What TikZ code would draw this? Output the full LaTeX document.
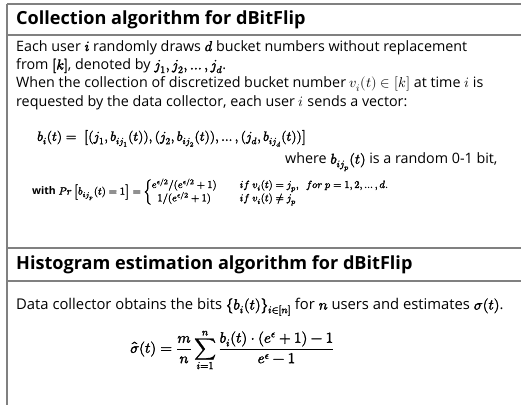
\documentclass[tikz,border=0pt]{standalone}
\usepackage{amsmath}
\usepackage{fontspec}
\usepackage{unicode-math}
\setmainfont{Open Sans}
\setmathfont{latinmodern-math.otf}
\setmathfont{latinmodern-math.otf}[version=bold,FakeBold=2.2]
\newcommand{\bmth}[1]{{\boldmath$#1$}}
\begin{document}
\begin{tikzpicture}[x=1pt,y=-1pt,
  rulecol/.style={draw=black!50, line width=1.6pt},
  titletext/.style={anchor=west, inner sep=0pt, font=\fontsize{18.1}{20}\selectfont\bfseries},
  bodytext/.style={anchor=west, inner sep=0pt, align=left, font=\fontsize{14.3}{18.4}\selectfont},
  mathtext/.style={anchor=west, inner sep=0pt, font=\fontsize{13.5}{16}\selectfont\boldmath},
  smallmath/.style={anchor=west, inner sep=0pt, font=\fontsize{10.5}{12.8}\selectfont\boldmath}]
\useasboundingbox (0,0) rectangle (521,405);
\fill[white] (0,0) rectangle (521,405);
% frame
\coordinate (tl) at (7,4);
\coordinate (tr) at (521,4);
\coordinate (bl) at (7,405);
\coordinate (a1) at (7,35);  \coordinate (a2) at (521,35);
\coordinate (b1) at (7,248); \coordinate (b2) at (521,248);
\coordinate (c1) at (7,281); \coordinate (c2) at (521,281);
\draw[rulecol] (tl) -- (tr);
\draw[rulecol] (a1) -- (a2);
\draw[rulecol] (b1) -- (b2);
\draw[rulecol] (c1) -- (c2);
\draw[rulecol] (tl) -- (bl);
% titles
\node[titletext] (t1) at (16,20) {Collection algorithm for dBitFlip};
\node[titletext] (t2) at (16,265) {Histogram estimation algorithm for dBitFlip};
% body
\node[bodytext, anchor=north west] (p1) at (16,40) {Each user \bmth{i} randomly draws \bmth{d} bucket numbers without replacement\\
from \bmth{[k]}, denoted by \bmth{j_1, j_2, \ldots, j_d}.\\
When the collection of discretized bucket number $v_i(t)\in[k]$ at time $i$ is\\
requested by the data collector, each user $i$ sends a vector:};
\node[mathtext] (e1) at (37,138) {$b_i(t) =\ \bigl[(j_1, b_{ij_1}(t)), (j_2, b_{ij_2}(t)), \ldots, (j_d, b_{ij_d}(t))\bigr]$};
\node[bodytext] (w1) at (285,162) {where \bmth{b_{ij_p}(t)} is a random 0-1 bit,};
\node[smallmath] (pr) at (32,192) {\textbf{with} $Pr\left[b_{ij_p}(t)=1\right] = \left\{\begin{array}{@{}c@{\hspace{2.2em}}l@{}}
 e^{\epsilon/2}/(e^{\epsilon/2}+1) & if\ v_i(t)=j_p,\ \ for\ p=1,2,\ldots,d.\\
 1/(e^{\epsilon/2}+1) & if\ v_i(t)\neq j_p
 \end{array}\right.$};
\node[bodytext, font=\fontsize{14.8}{18.4}\selectfont] (d1) at (16,307) {Data collector obtains the bits \bmth{\{b_i(t)\}_{i\in[n]}} for \bmth{n} users and estimates \bmth{\sigma(t)}.};
\node[mathtext, font=\fontsize{15}{17}\selectfont\boldmath] (s1) at (130,350) {$\displaystyle \hat{\sigma}(t) = \frac{m}{n}\sum_{i=1}^{n}\frac{b_i(t)\cdot(e^{\epsilon}+1)-1}{e^{\epsilon}-1}$};
\end{tikzpicture}
\end{document}
